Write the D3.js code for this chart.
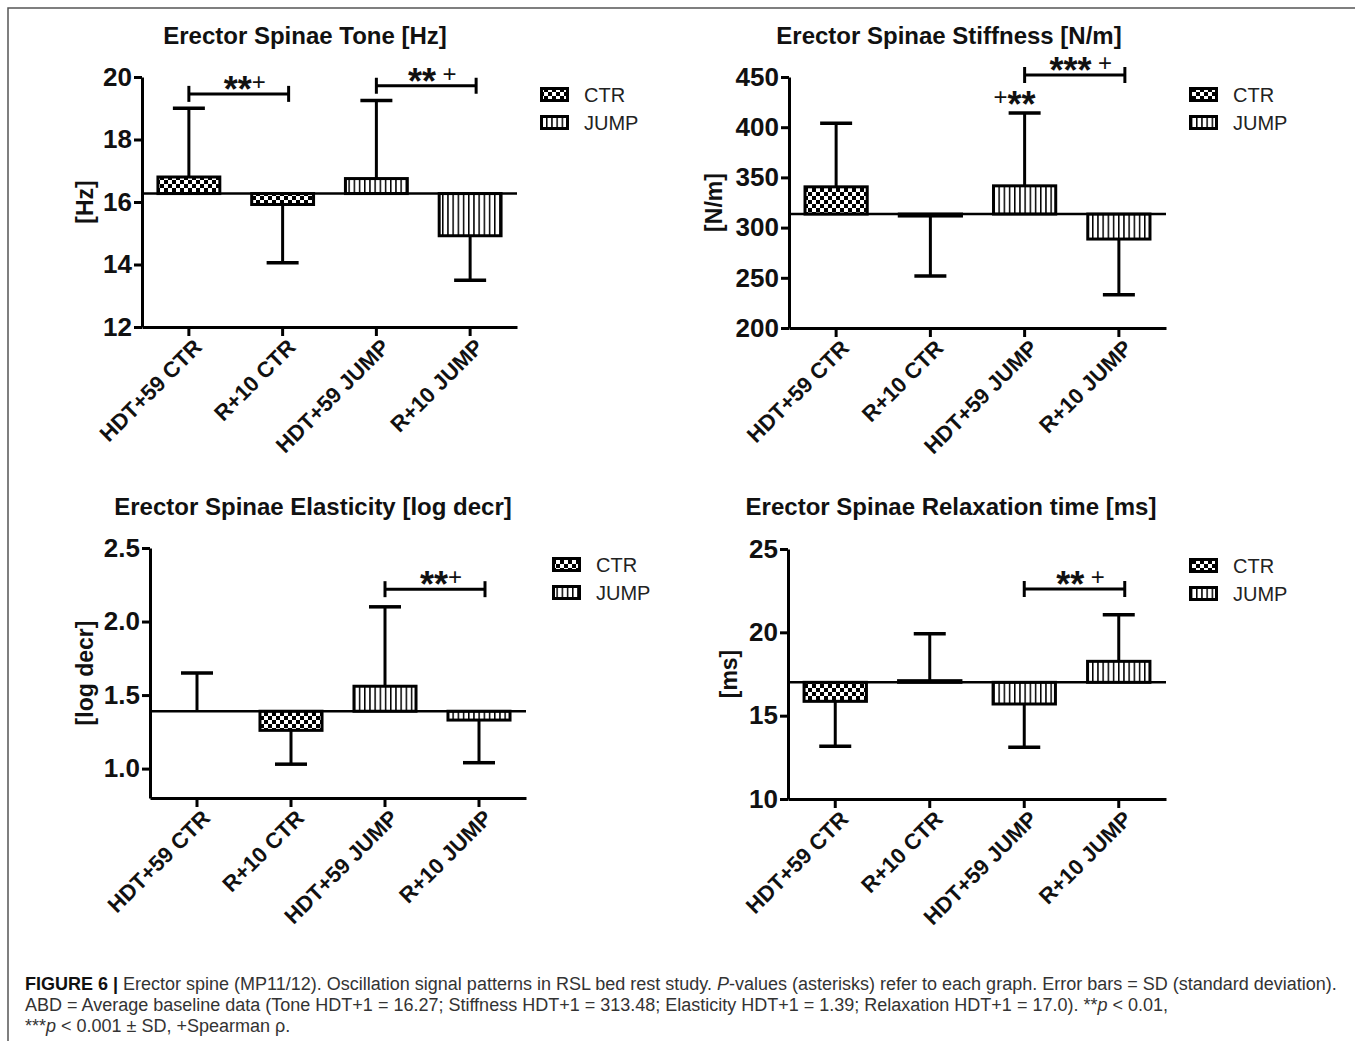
<!DOCTYPE html>
<html><head><meta charset="utf-8">
<script src="https://cdn.jsdelivr.net/npm/d3@7"></script>
<style>
html,body{margin:0;padding:0;background:#fff;}
svg{display:block;}
</style></head>
<body>
<script>
// ---------- data ----------
const categories = ["HDT+59 CTR", "R+10 CTR", "HDT+59 JUMP", "R+10 JUMP"];
const groups = ["CTR", "CTR", "JUMP", "JUMP"];
const legendLabels = ["CTR", "JUMP"];

const toneMean = [16.80, 15.92, 16.75, 14.92];
const toneSD = [2.20, 1.86, 2.50, 1.42];
const toneBaseline = 16.27;
const toneTicks = [12, 14, 16, 18, 20];

const stiffMean = [340.6, 311.5, 341.6, 288.6];
const stiffSD = [63.4, 59.8, 72.6, 55.6];
const stiffBaseline = 313.48;
const stiffTicks = [200, 250, 300, 350, 400, 450];

const elastMean = [1.39, 1.26, 1.56, 1.33];
const elastSD = [0.26, 0.23, 0.54, 0.29];
const elastBaseline = 1.39;
const elastTicks = [1.0, 1.5, 2.0, 2.5];

const relaxMean = [15.86, 17.10, 15.70, 18.26];
const relaxSD = [2.70, 2.82, 2.60, 2.80];
const relaxBaseline = 17.0;
const relaxTicks = [10, 15, 20, 25];

// significance annotations: bracket between categories at a value, or a label over one bar
const toneSig = [{from: 0, to: 1, value: 19.46, label: "**+"}, {from: 2, to: 3, value: 19.72, label: "** +"}];
const stiffSig = [{from: 2, to: 3, value: 452, label: "*** +"}, {from: 2, to: 2, value: 414.2, label: "+**"}];
const elastSig = [{from: 2, to: 3, value: 2.22, label: "**+"}];
const relaxSig = [{from: 2, to: 3, value: 22.6, label: "** +"}];

const titles = ["Erector Spinae Tone [Hz]", "Erector Spinae Stiffness [N/m]",
                "Erector Spinae Elasticity [log decr]", "Erector Spinae Relaxation time [ms]"];
const yLabels = ["[Hz]", "[N/m]", "[log decr]", "[ms]"];

// ---------- layout ----------
const W = 1355, H = 1041;
const svg = d3.select("body").append("svg").attr("width", W).attr("height", H);
const FONT = "'Liberation Sans', Arial, sans-serif";

const defs = svg.append("defs");
const chk = defs.append("pattern").attr("id", "pat-CTR").attr("patternUnits", "userSpaceOnUse")
  .attr("width", 8).attr("height", 8);
chk.append("rect").attr("width", 8).attr("height", 8).attr("fill", "#fff");
chk.append("rect").attr("x", 0).attr("y", 0).attr("width", 4).attr("height", 4).attr("fill", "#000");
chk.append("rect").attr("x", 4).attr("y", 4).attr("width", 4).attr("height", 4).attr("fill", "#000");
const stp = defs.append("pattern").attr("id", "pat-JUMP").attr("patternUnits", "userSpaceOnUse")
  .attr("width", 5.2).attr("height", 5);
stp.append("rect").attr("width", 5.2).attr("height", 5).attr("fill", "#fff");
stp.append("rect").attr("x", 0).attr("y", 0).attr("width", 1.5).attr("height", 5).attr("fill", "#000");

// frame (top and left border of the figure panel)
svg.append("path").attr("d", `M8,${H} L8,8 L${W},8`).attr("fill", "none")
  .attr("stroke", "#555").attr("stroke-width", 1.5);

const panels = [
  {mean: toneMean, sd: toneSD, base: toneBaseline, ticks: toneTicks, domain: [12, 20], fmt: d3.format("d"), sig: toneSig,
   x0: 142, x1: 517, yT: 77, yB: 327, titleX: 305, titleY: 44, legX: 540, legY: 87, ylX: 93},
  {mean: stiffMean, sd: stiffSD, base: stiffBaseline, ticks: stiffTicks, domain: [200, 450], fmt: d3.format("d"), sig: stiffSig,
   x0: 789, x1: 1166, yT: 77, yB: 328, titleX: 949, titleY: 44, legX: 1189, legY: 87, ylX: 722},
  {mean: elastMean, sd: elastSD, base: elastBaseline, ticks: elastTicks, domain: [0.8, 2.5], fmt: d3.format(".1f"), sig: elastSig,
   x0: 150, x1: 526, yT: 548, yB: 798, titleX: 313, titleY: 515, legX: 552, legY: 557, ylX: 93},
  {mean: relaxMean, sd: relaxSD, base: relaxBaseline, ticks: relaxTicks, domain: [10, 25], fmt: d3.format("d"), sig: relaxSig,
   x0: 788, x1: 1166, yT: 549, yB: 799, titleX: 951, titleY: 515, legX: 1189, legY: 558, ylX: 737}
];

// draws a significance label: asterisks big and bold, "+" regular
function sigLabel(g, xMid, yBase, label) {
  const t = g.append("text").attr("x", xMid).attr("y", yBase).attr("text-anchor", "middle")
    .attr("font-family", FONT).attr("fill", "#111");
  const runs = label.match(/(\*+|\++| +)/g);
  let shift = 0;
  runs.forEach(r => {
    const star = r[0] === "*";
    const target = star ? 12 : 0;
    t.append("tspan").attr("dy", target - shift)
      .attr("font-size", star ? 36 : 24).attr("font-weight", star ? "bold" : "normal")
      .text(r);
    shift = target;
  });
}

panels.forEach((p, i) => {
  const g = svg.append("g");
  const x = d3.scaleBand().domain(categories).range([p.x0, p.x1]).paddingInner(0.34).paddingOuter(0.17);
  const y = d3.scaleLinear().domain(p.domain).range([p.yB, p.yT]);
  const cx = c => x(c) + x.bandwidth() / 2;

  // title
  g.append("text").attr("x", p.titleX).attr("y", p.titleY).attr("text-anchor", "middle")
    .attr("font-family", FONT).attr("font-weight", "bold").attr("font-size", 24)
    .attr("fill", "#111").text(titles[i]);

  // bars
  const rows = categories.map((c, k) => ({c, grp: groups[k], m: p.mean[k], sd: p.sd[k]}));
  g.selectAll("rect.bar").data(rows).join("rect").attr("class", "bar")
    .attr("x", d => x(d.c)).attr("width", x.bandwidth())
    .attr("y", d => Math.min(y(d.m), y(p.base)))
    .attr("height", d => Math.abs(y(d.m) - y(p.base)))
    .attr("fill", d => `url(#pat-${d.grp})`)
    .attr("stroke", "#000").attr("stroke-width", 3);

  // baseline (average baseline data)
  g.append("line").attr("x1", p.x0).attr("x2", p.x1).attr("y1", y(p.base)).attr("y2", y(p.base))
    .attr("stroke", "#000").attr("stroke-width", 2.5);

  // error bars (one-sided, away from baseline)
  const errEnd = d => d.m >= p.base ? d.m + d.sd : d.m - d.sd;
  g.selectAll("line.err").data(rows).join("line").attr("class", "err")
    .attr("x1", d => cx(d.c)).attr("x2", d => cx(d.c))
    .attr("y1", d => y(d.m)).attr("y2", d => y(errEnd(d)))
    .attr("stroke", "#000").attr("stroke-width", 3);
  g.selectAll("line.cap").data(rows).join("line").attr("class", "cap")
    .attr("x1", d => cx(d.c) - 16).attr("x2", d => cx(d.c) + 16)
    .attr("y1", d => y(errEnd(d))).attr("y2", d => y(errEnd(d)))
    .attr("stroke", "#000").attr("stroke-width", 3.5);

  // axes
  const ya = g.append("g").attr("transform", `translate(${p.x0},0)`)
    .call(d3.axisLeft(y).tickValues(p.ticks).tickFormat(p.fmt).tickSize(8).tickSizeOuter(0).tickPadding(2));
  const xa = g.append("g").attr("transform", `translate(0,${p.yB})`)
    .call(d3.axisBottom(x).tickSize(9).tickSizeOuter(0).tickFormat(""));
  [ya, xa].forEach(a => {
    a.select(".domain").attr("stroke", "#000").attr("stroke-width", 3);
    a.selectAll(".tick line").attr("stroke", "#000").attr("stroke-width", 3);
  });
  ya.selectAll(".tick text").attr("font-family", FONT).attr("font-weight", "bold")
    .attr("font-size", 26).attr("fill", "#111");

  // rotated category labels
  g.selectAll("text.cat").data(categories).join("text").attr("class", "cat")
    .attr("transform", c => `translate(${cx(c) + 9},${p.yB + 16}) rotate(-45)`)
    .attr("text-anchor", "end").attr("dy", "0.35em")
    .attr("font-family", FONT).attr("font-weight", "bold").attr("font-size", 22)
    .attr("fill", "#111").text(c => c);

  // y axis label
  g.append("text").attr("transform", `translate(${p.ylX},${(p.yT + p.yB) / 2}) rotate(-90)`)
    .attr("text-anchor", "middle").attr("font-family", FONT).attr("font-weight", "bold")
    .attr("font-size", 23).attr("fill", "#111").text(yLabels[i]);

  // legend
  legendLabels.forEach((lab, k) => {
    const ly = p.legY + k * 28;
    g.append("rect").attr("x", p.legX + 1.5).attr("y", ly + 1.5).attr("width", 26).attr("height", 12)
      .attr("fill", `url(#pat-${lab})`).attr("stroke", "#000").attr("stroke-width", 3);
    g.append("text").attr("x", p.legX + 44).attr("y", ly + 8).attr("dy", "0.35em")
      .attr("font-family", FONT).attr("font-size", 20).attr("fill", "#222").text(lab);
  });

  // significance
  p.sig.forEach(s => {
    const yy = y(s.value);
    if (s.from !== s.to) {
      const xa1 = cx(categories[s.from]), xa2 = cx(categories[s.to]) + 6;
      g.append("line").attr("x1", xa1).attr("x2", xa2).attr("y1", yy).attr("y2", yy)
        .attr("stroke", "#000").attr("stroke-width", 3);
      [xa1, xa2].forEach(xx => g.append("line").attr("x1", xx).attr("x2", xx)
        .attr("y1", yy - 8).attr("y2", yy + 8).attr("stroke", "#000").attr("stroke-width", 3));
      sigLabel(g, (xa1 + xa2) / 2 + 6, yy - 4, s.label);
    } else {
      sigLabel(g, cx(categories[s.from]) - 10, yy - 8, s.label);
    }
  });
});

// ---------- caption ----------
const cap = svg.append("g").attr("font-family", FONT).attr("font-size", 18).attr("fill", "#333");
const l1 = cap.append("text").attr("x", 25).attr("y", 990);
l1.append("tspan").attr("font-weight", "bold").attr("fill", "#111").text("FIGURE 6 | ");
l1.append("tspan").text("Erector spine (MP11/12). Oscillation signal patterns in RSL bed rest study. ");
l1.append("tspan").attr("font-style", "italic").text("P");
l1.append("tspan").text("-values (asterisks) refer to each graph. Error bars = SD (standard deviation).");
const l2 = cap.append("text").attr("x", 25).attr("y", 1011);
l2.append("tspan").text("ABD = Average baseline data (Tone HDT+1 = 16.27; Stiffness HDT+1 = 313.48; Elasticity HDT+1 = 1.39; Relaxation HDT+1 = 17.0). **");
l2.append("tspan").attr("font-style", "italic").text("p");
l2.append("tspan").text(" < 0.01,");
const l3 = cap.append("text").attr("x", 25).attr("y", 1032);
l3.append("tspan").text("***");
l3.append("tspan").attr("font-style", "italic").text("p");
l3.append("tspan").text(" < 0.001 ± SD, +Spearman ρ.");
</script>
</body></html>
